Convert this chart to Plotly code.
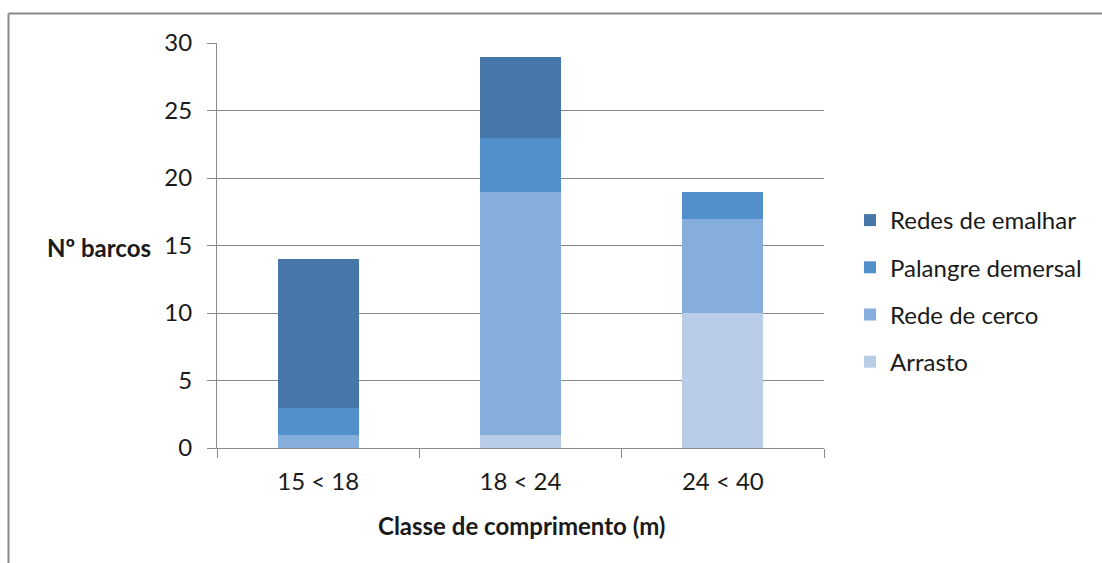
import plotly.graph_objects as go

# Length classes and number of boats per fishing gear
categories = ["15 < 18", "18 < 24", "24 < 40"]
arrasto = [0, 1, 10]
rede_de_cerco = [1, 18, 7]
palangre_demersal = [2, 4, 2]
redes_de_emalhar = [11, 6, 0]
y_ticks = [0, 5, 10, 15, 20, 25, 30]

# (name, values, colour, legend rank) - bottom of the stack first
series = [
    ("Arrasto", arrasto, "#B9CDE8", 4),
    ("Rede de cerco", rede_de_cerco, "#85AEDC", 3),
    ("Palangre demersal", palangre_demersal, "#5190CA", 2),
    ("Redes de emalhar", redes_de_emalhar, "#4677A8", 1),
]

FONT = "Lato, Calibri, sans-serif"
GRID = "#8A8A8A"

fig = go.Figure()
for name, vals, color, rank in series:
    fig.add_trace(go.Bar(
        x=categories, y=vals, name=name, legendgroup=name, legendrank=rank,
        marker=dict(color=color, line=dict(width=0)),
    ))

W, H = 1102, 563
L, R, T, B = 217, 278, 43, 115
pw, ph = W - L - R, H - T - B


def px_x(px):
    return (px - L) / pw


def px_y(py):
    return (H - B - py) / ph


fig.update_layout(
    width=W, height=H,
    margin=dict(l=L, r=R, t=T, b=B),
    barmode="stack", bargap=0.6,
    plot_bgcolor="white", paper_bgcolor="white",
    font=dict(family=FONT, size=24, color="#1a1a1a"),
    showlegend=True,
    legend=dict(
        traceorder="grouped", tracegroupgap=13,
        x=px_x(850), xanchor="left", y=px_y(198), yanchor="top",
        font=dict(family=FONT, size=24, color="#1a1a1a"),
        itemwidth=30,
    ),
    xaxis=dict(
        type="category", tickson="boundaries", ticks="outside", ticklen=9,
        tickcolor=GRID, showline=True, linecolor=GRID, linewidth=1,
        showgrid=False, tickfont=dict(size=24), ticklabelstandoff=12,
    ),
    yaxis=dict(
        range=[0, 30], tickvals=y_ticks, ticks="outside", ticklen=9,
        tickcolor=GRID, showline=True, linecolor=GRID, linewidth=1,
        showgrid=True, gridcolor=GRID, gridwidth=1, zeroline=False,
        tickfont=dict(size=24), ticklabelstandoff=10,
    ),
    annotations=[
        dict(text="<b>Nº barcos</b>", xref="paper", yref="paper",
             x=px_x(153), y=px_y(247), xanchor="right", yanchor="middle",
             showarrow=False, font=dict(size=24)),
        dict(text="<b>Classe de comprimento (m)</b>", xref="paper", yref="paper",
             x=px_x(521), y=px_y(525), xanchor="center", yanchor="middle",
             showarrow=False, font=dict(size=24)),
    ],
    shapes=[
        dict(type="line", xref="paper", yref="paper",
             x0=px_x(8.5), x1=px_x(W + 5), y0=px_y(13.5), y1=px_y(13.5),
             line=dict(color="#8A8A8A", width=2)),
        dict(type="line", xref="paper", yref="paper",
             x0=px_x(8.5), x1=px_x(8.5), y0=px_y(13.5), y1=px_y(H + 5),
             line=dict(color="#8A8A8A", width=2)),
    ],
)

fig.write_html("out.html")
